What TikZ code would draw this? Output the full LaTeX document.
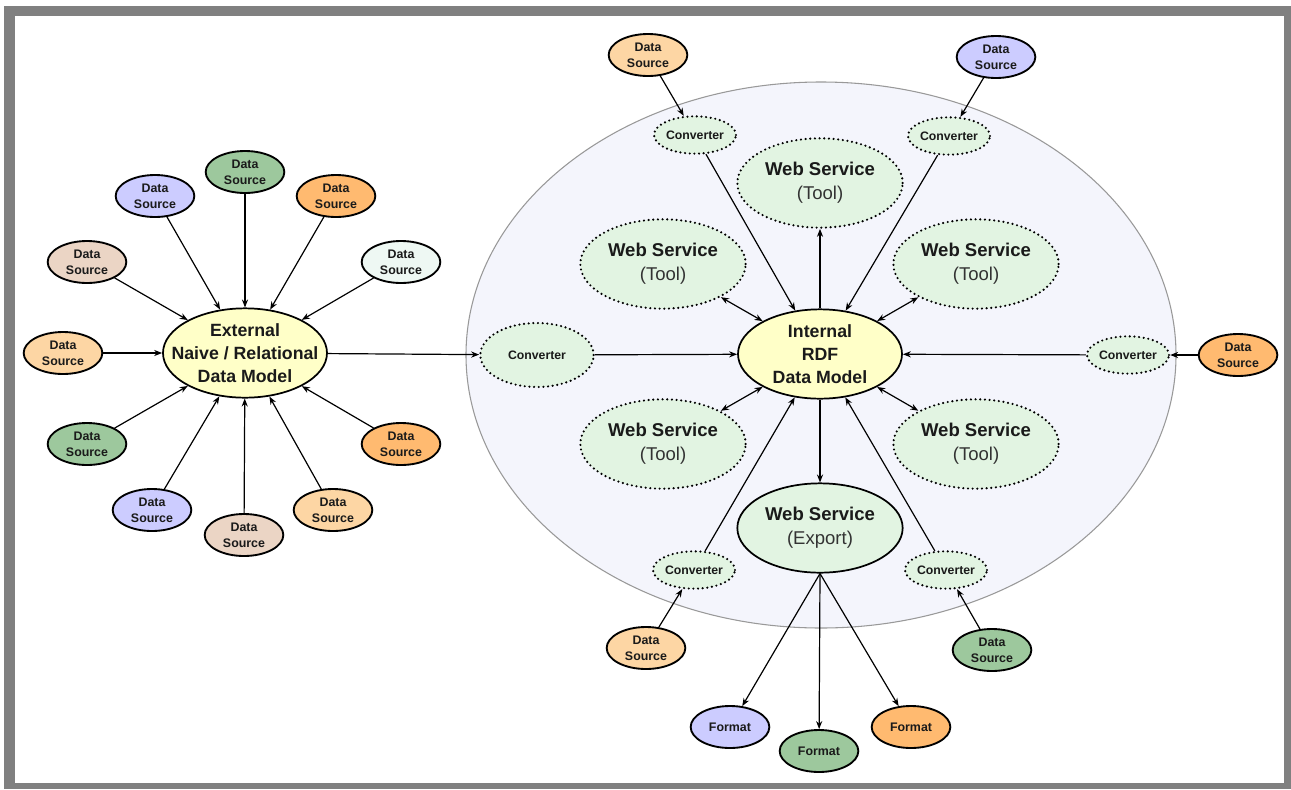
\documentclass[tikz,border=0pt]{standalone}
\usepackage{fontspec}
\setmainfont{Liberation Sans}
\usetikzlibrary{shapes.geometric,arrows.meta}
\definecolor{cLav}{HTML}{CCCCFF}
\definecolor{cGrn}{HTML}{9DC89D}
\definecolor{cOra}{HTML}{FFBA70}
\definecolor{cPea}{HTML}{FDD6A4}
\definecolor{cTan}{HTML}{EBD5C5}
\definecolor{cPal}{HTML}{EEF8F3}
\definecolor{cYel}{HTML}{FFFFC8}
\definecolor{cLgr}{HTML}{E2F4E2}
\definecolor{cBig}{HTML}{F4F5FC}
\definecolor{cFrame}{HTML}{808080}
\definecolor{cTxt}{HTML}{1A1A1A}
\tikzset{
  ds/.style={ellipse, draw=black, line width=1.4pt, inner sep=0pt,
    minimum width=59pt, minimum height=31.5pt, align=center, text=cTxt,
    font=\fontsize{9.3}{12}\selectfont\bfseries},
  model/.style={ellipse, draw=black, line width=1.3pt, fill=cYel, inner sep=0pt,
    minimum width=123pt, minimum height=67pt,
    label={[align=center, text=cTxt, font=\fontsize{13.3}{17}\selectfont\bfseries]center:#1}},
  dotline/.style={draw=black, line width=1.8pt, line cap=round, dash pattern=on 0pt off 3.5pt},
  conv/.style={ellipse, dotline, fill=cLgr, inner sep=0pt,
    minimum width=53pt, minimum height=28pt, text=cTxt,
    font=\fontsize{9.2}{12}\selectfont\bfseries},
  wsbase/.style={ellipse, fill=cLgr, inner sep=0pt,
    minimum width=124pt, minimum height=67pt,
    label={[align=center, text=cTxt, font=\fontsize{13.9}{18}\selectfont]center:#1}},
  ws/.style={wsbase={#1}, dotline},
  arr/.style={draw=black, line width=0.9pt, -{Stealth[length=6pt,width=4.6pt]}},
  darr/.style={draw=black, line width=0.9pt, {Stealth[length=6pt,width=4.6pt]}-{Stealth[length=6pt,width=4.6pt]}},
}
\newcommand{\DS}{Data\\Source}
\newcommand{\WSt}{\textbf{Web Service}\\{\color{black!80}(Tool)}}
\begin{document}
\begin{tikzpicture}[x=0.75pt,y=-0.75pt]
\useasboundingbox (0,0) rectangle (1291,789);
% frame
\fill[cFrame] (4,6) rectangle (1291,789);
\fill[white] (15,16) rectangle (1284,783);
% big background ellipse
\draw[fill=cBig, draw=black!40, line width=0.8pt] (821,355) ellipse [x radius=266.25pt, y radius=204.75pt];

% ---------- left cluster ----------
\node[model={External\\Naive / Relational\\Data Model}] (ext) at (245,353) {};
\node[ds, fill=cPea] (l1) at (63,353) {\DS};
\node[ds, fill=cTan] (l2) at (87,262) {\DS};
\node[ds, fill=cLav] (l3) at (155,196) {\DS};
\node[ds, fill=cGrn] (l4) at (245,172) {\DS};
\node[ds, fill=cOra] (l5) at (336,196) {\DS};
\node[ds, fill=cPal] (l6) at (401,262) {\DS};
\node[ds, fill=cGrn] (l7) at (87,444) {\DS};
\node[ds, fill=cLav] (l8) at (152,510) {\DS};
\node[ds, fill=cTan] (l9) at (244,535) {\DS};
\node[ds, fill=cPea] (l10) at (333,510) {\DS};
\node[ds, fill=cOra] (l11) at (401,444) {\DS};
\foreach \n in {l1,l2,l3,l4,l5,l6,l7,l8,l9,l10,l11} \draw[arr] (\n) -- (ext);

% ---------- right cluster ----------
\node[model={Internal\\RDF\\Data Model}] (int) at (820,354) {};
\node[conv, minimum width=85pt, minimum height=48pt] (cl) at (537,355) {Converter};
\node[conv] (ctl) at (695,135) {Converter};
\node[conv] (ctr) at (949,136) {Converter};
\node[conv] (cr) at (1128,355) {Converter};
\node[conv] (cbl) at (694,570) {Converter};
\node[conv] (cbr) at (946,570) {Converter};
\node[ds, fill=cPea] (dtl) at (648,55) {\DS};
\node[ds, fill=cLav] (dtr) at (996,57) {\DS};
\node[ds, fill=cOra] (dr) at (1238,355) {\DS};
\node[ds, fill=cPea] (dbl) at (646,648) {\DS};
\node[ds, fill=cGrn] (dbr) at (992,650) {\DS};
\node[ws=\WSt] (wt) at (820,183) {};
\node[ws=\WSt] (wul) at (663,264) {};
\node[ws=\WSt] (wur) at (976,264) {};
\node[ws=\WSt] (wll) at (663,444) {};
\node[ws=\WSt] (wlr) at (976,444) {};
\node[wsbase={\textbf{Web Service}\\{\color{black!80}(Export)}}, draw=black, line width=1.3pt] (exp) at (820,528) {};
\node[ds, fill=cLav] (f1) at (730,727) {Format};
\node[ds, fill=cGrn] (f2) at (819,751) {Format};
\node[ds, fill=cOra] (f3) at (911,727) {Format};

\draw[arr] (ext) -- (cl);
\draw[arr] (cl) -- (int);
\draw[arr] (dtl) -- (ctl);
\draw[arr] (ctl) -- (int);
\draw[arr] (dtr) -- (ctr);
\draw[arr] (ctr) -- (int);
\draw[arr] (dr) -- (cr);
\draw[arr] (cr) -- (int);
\draw[arr] (dbl) -- (cbl);
\draw[arr] (cbl) -- (int);
\draw[arr] (dbr) -- (cbr);
\draw[arr] (cbr) -- (int);
\draw[arr] (int) -- (wt);
\draw[darr] (int) -- (wul);
\draw[darr] (int) -- (wur);
\draw[darr] (int) -- (wll);
\draw[darr] (int) -- (wlr);
\draw[arr] (int) -- (exp);
\draw[arr] (exp.south) -- (f1);
\draw[arr] (exp.south) -- (f2);
\draw[arr] (exp.south) -- (f3);
\end{tikzpicture}
\end{document}
